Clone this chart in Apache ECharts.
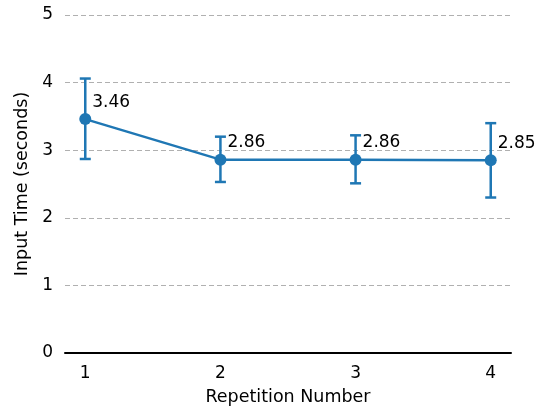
<!DOCTYPE html>
<html>
<head>
<meta charset="utf-8">
<script src="https://cdn.jsdelivr.net/npm/echarts@6/dist/echarts.min.js"></script>
<style>html,body{margin:0;padding:0;background:#fff;}#c{width:546px;height:413px;}</style>
</head>
<body>
<div id="c"></div>
<script>
var repetitions = [1, 2, 3, 4];
var meanTimes = [3.46, 2.86, 2.86, 2.85];
var errLow = [2.87, 2.53, 2.51, 2.30];
var errHigh = [4.06, 3.20, 3.22, 3.40];
var yTicks = [0, 1, 2, 3, 4, 5];

var color = '#1f77b4';
var font = 'DejaVu Sans';
var chart = echarts.init(document.getElementById('c'), null, {renderer: 'canvas'});

var lineData = repetitions.map(function (r, i) { return [r, meanTimes[i]]; });
var errData = repetitions.map(function (r, i) { return [r, errLow[i], errHigh[i]]; });

chart.setOption({
  animation: false,
  backgroundColor: '#fff',
  grid: {left: 65, right: 35, top: 15, bottom: 60},
  xAxis: {
    type: 'value', min: 0.85, max: 4.15,
    name: 'Repetition Number', nameLocation: 'middle', nameGap: 35,
    nameTextStyle: {fontFamily: font, fontSize: 17.5, color: '#000'},
    axisLine: {show: true, onZero: false, lineStyle: {color: '#000', width: 2}},
    axisTick: {show: false},
    splitLine: {show: false},
    axisLabel: {customValues: repetitions, fontFamily: font, fontSize: 17, color: '#000', margin: 12,
      formatter: function (v) { return String(v); }}
  },
  yAxis: {
    type: 'value', min: 0, max: 5, interval: 1,
    name: 'Input Time (seconds)', nameLocation: 'middle', nameGap: 29,
    nameTextStyle: {fontFamily: font, fontSize: 17.5, color: '#000'},
    axisLine: {show: false},
    axisTick: {show: false},
    axisLabel: {customValues: yTicks, fontFamily: font, fontSize: 17, color: '#000', margin: 12},
    splitLine: {show: true, lineStyle: {color: '#b0b0b0', type: [5, 3], width: 1}}
  },
  series: [
    {
      type: 'custom',
      z: 3,
      data: errData,
      renderItem: function (params, api) {
        var x = api.value(0);
        var lo = api.coord([x, api.value(1)]);
        var hi = api.coord([x, api.value(2)]);
        var cap = 5.5;
        var st = {stroke: color, lineWidth: 2.5};
        return {type: 'group', children: [
          {type: 'line', shape: {x1: lo[0], y1: lo[1], x2: hi[0], y2: hi[1]}, style: st},
          {type: 'line', shape: {x1: lo[0] - cap, y1: lo[1], x2: lo[0] + cap, y2: lo[1]}, style: st},
          {type: 'line', shape: {x1: hi[0] - cap, y1: hi[1], x2: hi[0] + cap, y2: hi[1]}, style: st}
        ]};
      }
    },
    {
      type: 'line',
      z: 4,
      data: lineData,
      symbol: 'circle', symbolSize: 12,
      lineStyle: {color: color, width: 2.5},
      itemStyle: {color: color},
      label: {
        show: true, position: [13, -11], align: 'left', verticalAlign: 'middle',
        fontFamily: font, fontSize: 17, color: '#000',
        formatter: function (p) { return p.value[1].toFixed(2); }
      }
    }
  ]
});
</script>
</body>
</html>
